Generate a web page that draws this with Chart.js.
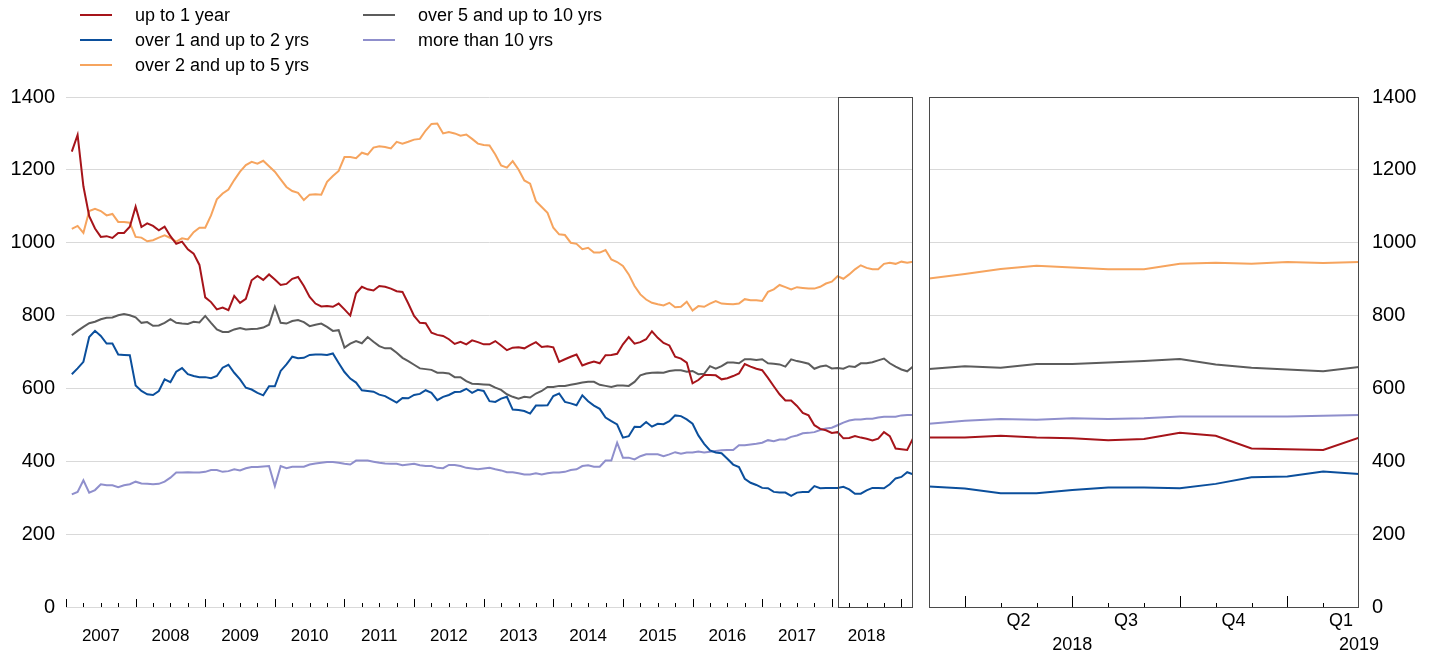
<!DOCTYPE html>
<html>
<head>
<meta charset="utf-8">
<script src="https://cdn.jsdelivr.net/npm/chart.js@4.4.1/dist/chart.umd.min.js"></script>
<style>
body { margin: 0; background: #fff; font-family: "Liberation Sans", Arial, sans-serif; }
#wrap { position: relative; width: 1436px; height: 657px; overflow: hidden; }
#left { position: absolute; left: 0; top: 0; }
#right { position: absolute; left: 921px; top: 0; }
.leg { position: absolute; font-size: 18px; line-height: 20px; color: #000; white-space: nowrap; }
.leg i { position: absolute; left: -55px; top: 9px; width: 32px; height: 2px; }
</style>
</head>
<body>
<div id="wrap">
  <canvas id="left" width="921" height="657"></canvas>
  <canvas id="right" width="515" height="657"></canvas>
  <div id="legend"></div>
</div>
<script>
// monthly, end of month, Jan 2007 .. Feb 2019
const yearLabels = ['2007','2008','2009','2010','2011','2012','2013','2014','2015','2016','2017','2018'];

const upTo1 = [1250,1296,1155,1073,1039,1016,1018,1013,1027,1027,1044,1099,1043,1053,1046,1034,1044,1018,997,1003,982,970,939,850,
  837,817,822,815,854,835,846,897,909,898,913,899,884,887,901,906,881,851,833,825,826,824,833,817,
  800,861,879,872,869,881,879,874,867,865,833,799,780,779,753,747,744,735,722,728,721,732,727,721,
  721,730,718,705,712,713,710,719,727,714,716,713,673,680,687,693,663,669,674,669,691,692,695,721,
  741,723,727,735,757,739,725,718,687,682,671,614,623,637,637,636,625,628,634,641,667,660,654,650,
  629,606,584,567,567,552,533,526,499,489,485,478,480,463,464,469,465,462,457,462,480,469,435,433,431,463];

const over1to2 = [639,655,673,741,758,744,723,723,693,692,691,608,593,584,582,593,625,617,646,656,639,634,631,631,
  628,634,657,665,643,625,602,597,588,581,606,606,648,666,687,683,684,692,693,693,692,696,670,645,
  627,616,595,593,591,583,579,570,561,574,573,582,585,595,588,568,577,582,590,591,599,588,596,593,
  565,563,572,577,542,541,538,531,553,553,554,579,586,563,559,554,581,565,553,544,520,510,501,465,
  469,495,494,508,495,503,502,510,526,524,515,503,471,448,430,424,422,407,391,384,352,341,335,327,
  326,316,314,314,305,314,316,316,332,326,327,327,327,330,323,311,311,320,327,327,326,337,353,357,370,364];

const over2to5 = [1038,1046,1027,1087,1093,1087,1075,1079,1057,1057,1055,1016,1014,1004,1007,1014,1020,1013,1003,1012,1009,1029,1041,1041,
  1075,1119,1135,1146,1172,1195,1213,1222,1217,1225,1210,1195,1174,1153,1142,1137,1117,1132,1133,1132,1167,1183,1197,1235,
  1235,1232,1247,1242,1261,1265,1263,1259,1277,1272,1277,1283,1285,1308,1326,1327,1300,1304,1300,1294,1297,1285,1272,1268,
  1267,1242,1212,1206,1224,1201,1171,1162,1114,1098,1082,1041,1023,1021,1000,997,982,986,973,973,980,954,947,936,
  913,881,858,844,835,831,828,835,823,824,838,814,826,824,833,840,833,832,831,833,845,842,842,840,
  865,872,884,878,872,878,876,874,874,879,888,893,908,901,913,927,938,931,927,927,942,945,942,948,945,948];

const over5to10 = [746,758,769,779,783,790,794,795,801,804,801,795,780,782,772,773,780,790,780,778,777,783,781,799,
  780,762,755,755,762,766,762,763,764,767,775,824,780,778,785,788,782,771,775,778,769,758,760,712,
  723,730,724,741,728,716,710,710,698,684,675,665,655,653,651,643,643,641,631,631,620,613,612,611,
  610,602,596,584,577,572,577,575,586,593,604,604,607,607,610,613,616,618,618,610,607,604,608,608,
  607,618,636,641,643,644,643,648,650,650,646,648,639,640,661,654,661,671,671,669,680,680,678,680,
  669,668,666,660,680,675,672,668,654,660,663,655,656,654,661,659,669,669,672,677,682,669,660,652,647,660];

const over10 = [309,316,348,314,321,337,334,334,329,334,337,344,339,338,337,338,344,355,369,369,370,369,369,371,
  376,376,371,373,378,375,381,384,384,386,387,332,387,381,385,385,385,391,394,396,398,398,396,393,
  391,402,402,402,399,396,394,393,393,389,391,393,389,387,387,382,381,390,390,387,382,380,378,380,
  382,378,375,370,370,367,364,364,367,364,367,369,369,371,376,378,387,389,385,385,402,402,451,410,
  410,405,414,419,419,419,414,419,425,421,424,424,427,424,426,428,430,431,431,444,444,446,448,451,
  458,455,460,460,467,471,477,478,480,486,490,492,499,506,512,515,515,517,517,520,522,522,522,526,527,527];

// right panel: Feb 2018 .. Feb 2019
const quarterLabels = ['Q2','Q3','Q4','Q1'];
const panelYears = ['2018','2019'];
const zUpTo1     = [465,465,470,465,463,458,461,478,470,435,433,431,465];
const zOver1to2  = [331,325,312,312,321,328,328,326,338,356,358,372,365];
const zOver2to5  = [902,914,928,937,932,927,927,942,945,942,947,944,947];
const zOver5to10 = [653,661,657,667,667,671,675,681,666,657,652,647,659];
const zOver10    = [503,511,516,514,518,516,518,523,523,523,523,525,527];

const seriesNames = ['up to 1 year','over 1 and up to 2 yrs','over 2 and up to 5 yrs','over 5 and up to 10 yrs','more than 10 yrs'];
const colors = ['#a6141a','#0b4f9c','#f6a45e','#5c5c5c','#8f8fcc'];

// legend
const legPos = [[135,5],[135,30],[135,55],[418,5],[418,30]];
const legend = document.getElementById('legend');
seriesNames.forEach((n, k) => {
  const d = document.createElement('div');
  d.className = 'leg';
  d.style.left = legPos[k][0] + 'px';
  d.style.top = legPos[k][1] + 'px';
  d.innerHTML = '<i style="background:' + colors[k] + '"></i>' + n;
  legend.appendChild(d);
});

Chart.defaults.font.family = '"Liberation Sans", Arial, sans-serif';
Chart.defaults.color = '#000';

function toPoints(arr, shift) {
  return arr.map((v, i) => ({ x: i + shift, y: v }));
}

function makeSets(list, shift) {
  return list.map((arr, k) => ({
    label: seriesNames[k],
    data: toPoints(arr, shift),
    borderColor: colors[k],
    borderWidth: 2,
    pointRadius: 0,
    tension: 0,
    fill: false
  }));
}

// tick marks pointing up into the plot, plus frame boxes
const marksPlugin = {
  id: 'marks',
  afterDatasetsDraw(chart, args, opts) {
    const ctx = chart.ctx;
    const a = chart.chartArea;
    const x = chart.scales.x;
    ctx.save();
    ctx.strokeStyle = '#000';
    ctx.lineWidth = 1;
    ctx.beginPath();
    opts.marks.forEach(m => {
      const px = Math.round(x.getPixelForValue(m.v)) + 0.5;
      ctx.moveTo(px, a.bottom);
      ctx.lineTo(px, a.bottom - m.len);
    });
    ctx.stroke();
    if (opts.box) {
      const x0 = Math.round(x.getPixelForValue(opts.box[0])) + 0.5;
      const x1 = Math.round(x.getPixelForValue(opts.box[1])) - 0.5;
      ctx.strokeStyle = '#4a4a4a';
      ctx.strokeRect(x0, Math.round(a.top) + 0.5, x1 - x0, Math.round(a.bottom - a.top));
    }
    ctx.restore();
  }
};

const leftMarks = [];
for (let v = 3; v <= 144; v += 3) leftMarks.push({ v: v, len: v % 12 === 0 ? 8 : 4 });
leftMarks.push({ v: 0, len: 8 });

const yCommon = {
  min: 0, max: 1400,
  ticks: { stepSize: 200, font: { size: 20 }, color: '#000', callback: v => String(v) },
  grid: { color: '#d9d9d9', drawTicks: false },
  border: { display: false }
};

new Chart(document.getElementById('left'), {
  type: 'line',
  data: { datasets: makeSets([upTo1, over1to2, over2to5, over5to10, over10], 1) },
  options: {
    responsive: false,
    animation: false,
    layout: { padding: { top: 97, right: 8, left: 0, bottom: 0 } },
    plugins: {
      legend: { display: false },
      tooltip: { enabled: false },
      marks: { marks: leftMarks, box: [133, 146] }
    },
    scales: {
      x: {
        type: 'linear', min: 0, max: 146,
        afterBuildTicks: s => { s.ticks = yearLabels.map((_, k) => ({ value: 6 + 12 * k })); },
        afterFit: s => { s.height = 50; },
        ticks: {
          autoSkip: false, maxRotation: 0, padding: 19,
          font: { size: 17 }, color: '#000',
          callback: v => yearLabels[Math.round((v - 6) / 12)]
        },
        grid: { display: false, drawTicks: false },
        border: { display: false }
      },
      y: Object.assign({}, yCommon, {
        position: 'left',
        ticks: Object.assign({}, yCommon.ticks, { padding: 11 }),
        afterFit: s => { s.width = 66; }
      })
    }
  },
  plugins: [marksPlugin]
});

const rightMarks = [];
for (let v = 1; v <= 11; v++) rightMarks.push({ v: v, len: (v - 1) % 3 === 0 ? 11 : 4 });

new Chart(document.getElementById('right'), {
  type: 'line',
  data: { datasets: makeSets([zUpTo1, zOver1to2, zOver2to5, zOver5to10, zOver10], 0) },
  options: {
    responsive: false,
    animation: false,
    layout: { padding: { top: 97, right: 0, left: 8, bottom: 0 } },
    plugins: {
      legend: { display: false },
      tooltip: { enabled: false },
      marks: { marks: rightMarks, box: [0, 12] }
    },
    scales: {
      x: {
        type: 'linear', min: 0, max: 12,
        afterBuildTicks: s => { s.ticks = quarterLabels.map((_, k) => ({ value: 2.5 + 3 * k })); },
        afterFit: s => { s.height = 26; },
        ticks: {
          autoSkip: false, maxRotation: 0, padding: 3,
          font: { size: 18 }, color: '#000',
          callback: v => quarterLabels[Math.round((v - 2.5) / 3)]
        },
        grid: { display: false, drawTicks: false },
        border: { display: false }
      },
      x2: {
        type: 'linear', position: 'bottom', min: 0, max: 12,
        afterBuildTicks: s => { s.ticks = [{ value: 4 }, { value: 12 }]; },
        afterFit: s => { s.height = 24; },
        ticks: {
          autoSkip: false, maxRotation: 0, padding: 1,
          font: { size: 18 }, color: '#000',
          callback: (v, i) => panelYears[i]
        },
        grid: { display: false, drawTicks: false },
        border: { display: false }
      },
      y: Object.assign({}, yCommon, {
        position: 'right',
        ticks: Object.assign({}, yCommon.ticks, { padding: 13 }),
        afterFit: s => { s.width = 77; }
      })
    }
  },
  plugins: [marksPlugin]
});
</script>
</body>
</html>
